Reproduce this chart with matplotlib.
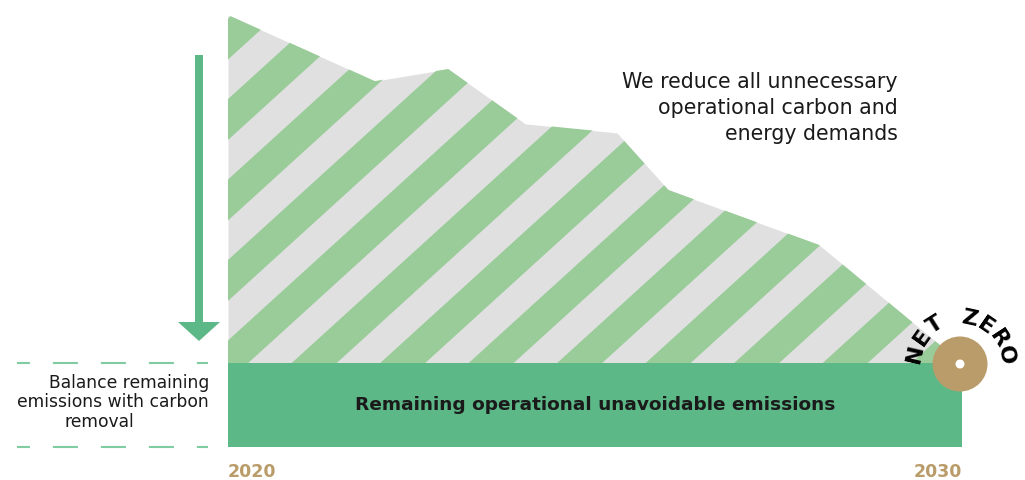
import matplotlib
matplotlib.use("Agg")
import matplotlib.pyplot as plt
from matplotlib.patches import Polygon, Ellipse, FancyArrow
import numpy as np

# emission path, index 100 = today, residual = unavoidable level
years = [2020, 2022, 2023, 2024.05, 2025.3, 2026, 2028.05, 2030]
emissions = [100.0, 84.7, 87.5, 74.8, 72.7, 59.5, 46.8, 19.4]
residual = 19.4
start_year, end_year = 2020, 2030

GREEN = '#5cb887'
LIGHT_GREEN = '#99cc99'
GREY = '#e0e0e0'
DASH = '#7fcca0'
TAN = '#b99c69'
TEXT = '#1a1a1a'

# pixel scale of the picture: 73.4 px per year, 4.32 px per index point
XPX, YPX = 73.4, 4.32
X0PX, Y0PX = 228, 447


def px(x, y):
    # pixel (from top-left) -> data
    return start_year + (x - X0PX) / XPX, (Y0PX - y) / YPX


fig = plt.figure(figsize=(10.25, 4.8), dpi=100)
ax = fig.add_axes([0, 0, 1, 1])
ax.set_xlim(px(0, 0)[0], px(1025, 0)[0])
ax.set_ylim(px(0, 480)[1], px(0, 0)[1])
ax.axis('off')

# reduction area: grey base with green diagonal stripes
ax.fill_between(years, emissions, residual, color=GREY, lw=0)
area = Polygon(list(zip(years, emissions)) + [(end_year, residual), (start_year, residual)],
               closed=True, transform=ax.transData)
for k in range(-2, 20):
    c0 = 71.5 + 88.5 * k
    c1 = c0 + 45
    pts = [px(c0, 0), px(c1, 0), px(c1 - 1.1 * 480, 480), px(c0 - 1.1 * 480, 480)]
    st = ax.fill([p[0] for p in pts], [p[1] for p in pts], color=LIGHT_GREEN, lw=0)[0]
    st.set_clip_path(area)

# remaining emissions block
ax.fill_between([start_year, end_year], 0, residual, color=GREEN, lw=0)
ax.text(px(595, 0)[0], residual / 2, 'Remaining operational unavoidable emissions',
        ha='center', va='center', fontsize=13.3, fontweight='bold', color=TEXT)

# arrow on the left
ax_x, ax_top = px(199, 55)
_, ax_tip = px(0, 341)
ax.add_patch(FancyArrow(ax_x, ax_top, 0, ax_tip - ax_top, width=8 / XPX, head_width=42 / XPX,
                        head_length=19 / YPX, length_includes_head=True, color=GREEN, lw=0))

# dashed lines around the balance text
x1, _ = px(17, 0)
x2, _ = px(208, 0)
for yl in [residual, 0]:
    ax.plot([x1, x2], [yl, yl], color=DASH, lw=1.5, linestyle=(5.8, (12, 11.04)),
            solid_capstyle='butt', dash_capstyle='butt')

ax.text(*px(209, 383), 'Balance remaining', ha='right', va='center', fontsize=12.3, color=TEXT)
ax.text(*px(209, 402), 'emissions with carbon', ha='right', va='center', fontsize=12.3, color=TEXT)
ax.text(*px(64, 422), 'removal', ha='left', va='center', fontsize=12.3, color=TEXT)

# top right note
for i, line in enumerate(['We reduce all unnecessary', 'operational carbon and', 'energy demands']):
    ax.text(*px(898, 82 + 26 * i), line, ha='right', va='center', fontsize=14.8, color=TEXT)

# years
ax.text(*px(228, 472), str(start_year), ha='left', va='center', fontsize=12.5,
        fontweight='bold', color=TAN)
ax.text(*px(962, 472), str(end_year), ha='right', va='center', fontsize=12.5,
        fontweight='bold', color=TAN)

# net zero marker
cx, cy = 960, 364
ax.add_patch(Ellipse(px(cx, cy), 55 / XPX, 55 / YPX, color=TAN, lw=0))
ax.add_patch(Ellipse(px(cx, cy), 9 / XPX, 9 / YPX, color='white', lw=0))
label = 'NET ZERO'
for i, ch in enumerate(label):
    if ch == ' ':
        continue
    ang = 167 - 22.3 * i
    r = 46
    tx = cx + r * np.cos(np.radians(ang))
    ty = cy - r * np.sin(np.radians(ang))
    ax.text(*px(tx, ty), ch, ha='center', va='center', rotation=ang - 90,
            rotation_mode='anchor', fontsize=16, fontweight='bold', color='black')

fig.savefig('out.png', dpi=100)
